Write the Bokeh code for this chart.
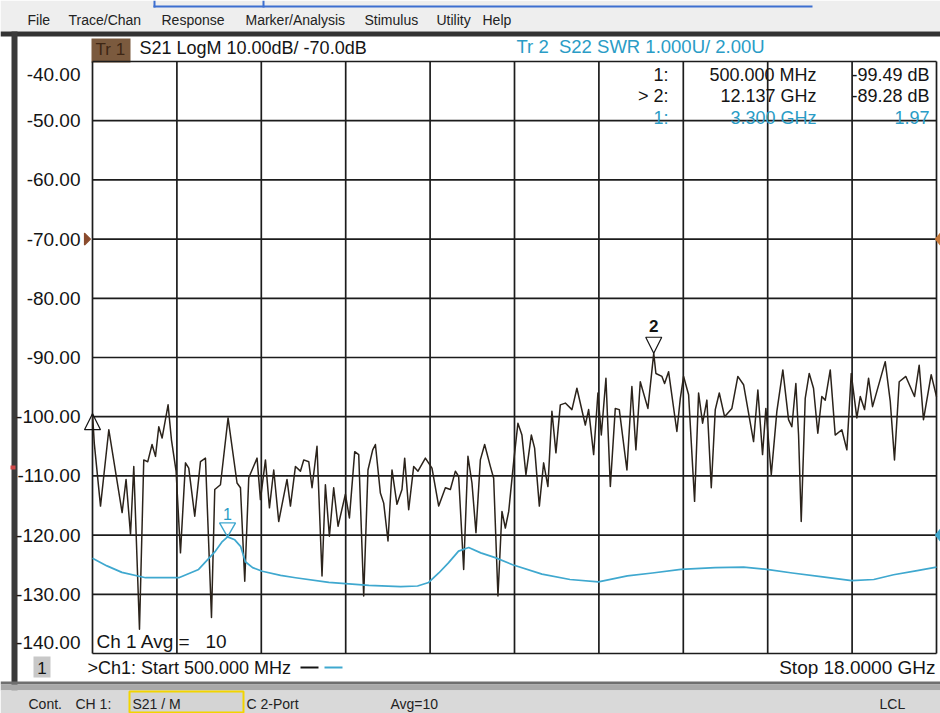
from bokeh.plotting import figure
from bokeh.models import Range1d, ColumnDataSource
from bokeh.core.properties import value
from bokeh.embed import file_html
from bokeh.resources import INLINE

# ---------------- data ----------------
start_ghz = 0.5
stop_ghz = 18.0
x_divs = 10
y_ticks = [-40, -50, -60, -70, -80, -90, -100, -110, -120, -130, -140]
y_tick_labels = ["-40.00", "-50.00", "-60.00", "-70.00", "-80.00", "-90.00",
                 "-100.00", "-110.00", "-120.00", "-130.00", "-140.00"]

s21_freq = [0.500, 0.537, 0.666, 0.838, 1.114, 1.196, 1.288, 1.356, 1.474, 1.563,
            1.646, 1.735, 1.806, 1.874, 1.943, 2.067, 2.137, 2.233, 2.324, 2.428,
            2.496, 2.620, 2.739, 2.842, 2.967, 3.035, 3.153, 3.311, 3.497, 3.568,
            3.657, 3.740, 3.912, 3.982, 4.086, 4.169, 4.258, 4.361, 4.533, 4.604,
            4.708, 4.811, 4.880, 4.984, 5.052, 5.155, 5.259, 5.329, 5.412, 5.501,
            5.591, 5.744, 5.827, 5.937, 6.020, 6.123, 6.212, 6.310, 6.366, 6.469,
            6.538, 6.627, 6.710, 6.813, 6.917, 6.973, 7.056, 7.160, 7.249, 7.402,
            7.539, 7.678, 7.817, 7.920, 8.024, 8.092, 8.196, 8.285, 8.368, 8.451,
            8.542, 8.631, 8.749, 8.818, 8.907, 8.990, 9.060, 9.130, 9.233, 9.321,
            9.404, 9.487, 9.599, 9.667, 9.765, 9.854, 9.943, 10.026, 10.109, 10.200,
            10.304, 10.441, 10.544, 10.718, 10.787, 10.891, 10.980, 11.050, 11.146, 11.237,
            11.340, 11.423, 11.581, 11.684, 11.767, 11.858, 12.016, 12.137, 12.182, 12.307,
            12.362, 12.445, 12.617, 12.688, 12.756, 12.860, 12.984, 13.067, 13.150, 13.239,
            13.330, 13.413, 13.496, 13.606, 13.757, 13.881, 14.000, 14.207, 14.296, 14.393,
            14.462, 14.574, 14.690, 14.814, 14.932, 15.001, 15.084, 15.140, 15.195, 15.278,
            15.361, 15.450, 15.539, 15.622, 15.693, 15.797, 15.900, 16.037, 16.141, 16.232,
            16.348, 16.419, 16.508, 16.591, 16.674, 16.937, 17.041, 17.129, 17.227, 17.364,
            17.544, 17.641, 17.730, 17.890, 18.000]
s21_db = [-99.5, -104.5, -115.1, -102.2, -116.2, -110.6, -119.9, -108.4, -135.9, -107.3,
          -107.6, -104.7, -106.7, -101.7, -103.6, -98.0, -103.9, -109.2, -123.0, -107.8,
          -108.7, -116.8, -107.6, -107.0, -133.9, -112.3, -111.5, -100.2, -111.2, -112.0,
          -127.8, -110.3, -107.0, -114.0, -107.3, -115.4, -109.0, -117.7, -110.6, -115.1,
          -108.4, -109.2, -107.3, -107.6, -112.0, -105.0, -126.9, -111.5, -120.2, -112.0,
          -118.5, -113.1, -117.1, -105.9, -106.4, -130.3, -109.0, -105.6, -104.7, -112.9,
          -114.6, -121.0, -109.0, -114.8, -112.3, -107.0, -115.7, -108.4, -109.2, -107.0,
          -108.7, -115.1, -112.0, -112.3, -109.2, -110.1, -125.8, -106.7, -111.2, -119.6,
          -107.3, -104.7, -108.4, -110.4, -130.3, -116.0, -118.8, -116.0, -107.6, -101.1,
          -103.1, -109.8, -103.1, -105.3, -115.1, -107.8, -111.8, -99.1, -106.1, -98.0,
          -97.7, -98.8, -95.2, -101.4, -98.8, -106.4, -96.0, -103.1, -93.5, -111.8,
          -98.6, -98.8, -109.0, -94.9, -105.6, -94.1, -98.6, -89.3, -92.7, -93.2,
          -94.4, -92.4, -102.5, -96.9, -93.2, -96.3, -114.3, -96.0, -101.1, -97.2,
          -112.0, -98.8, -96.0, -100.0, -98.6, -93.2, -94.6, -104.2, -95.5, -106.4,
          -98.6, -109.8, -99.1, -92.1, -100.5, -101.7, -94.4, -103.1, -117.7, -96.9,
          -92.7, -95.2, -102.8, -96.6, -97.2, -92.1, -103.1, -102.2, -105.6, -92.7,
          -100.2, -96.6, -98.8, -93.5, -98.3, -90.7, -97.4, -107.3, -94.1, -93.2,
          -96.6, -91.3, -100.5, -92.9, -96.6]

swr_freq = [0.50, 0.80, 1.11, 1.60, 2.29, 2.70, 2.95, 3.05, 3.18, 3.30,
            3.45, 3.57, 3.67, 3.82, 4.02, 4.40, 4.71, 5.40, 6.23, 6.89,
            7.24, 7.47, 7.68, 7.88, 8.09, 8.30, 8.55, 8.85, 9.21, 9.82,
            10.40, 10.99, 11.59, 12.11, 12.70, 13.41, 14.00, 14.48, 15.01, 15.60,
            16.24, 16.70, 17.11, 17.60, 18.00]
swr_val = [1.61, 1.48, 1.37, 1.28, 1.28, 1.42, 1.64, 1.73, 1.88, 1.97,
           1.92, 1.81, 1.55, 1.45, 1.39, 1.32, 1.28, 1.20, 1.15, 1.13,
           1.14, 1.20, 1.36, 1.53, 1.73, 1.79, 1.70, 1.62, 1.50, 1.34,
           1.25, 1.21, 1.31, 1.36, 1.42, 1.45, 1.46, 1.42, 1.36, 1.30,
           1.23, 1.25, 1.33, 1.40, 1.46]
swr_top = 10.0
swr_bottom = 0.0

# markers: (freq GHz, value)
mk_s21 = [(0.5, -99.49), (12.137, -89.28)]
mk_swr = [(3.3, 1.97)]

# ---------------- layout ----------------
W, H = 940, 713
FL, FR, FT, FB = 92, 936, 61, 653        # plot grid area in canvas pixels
BLACK = "#141414"
CYAN = "#2a9cc6"
TRACE_CYAN = "#3fa8cf"
FONT = "Liberation Sans"
NB = "\u00a0"

y_top, y_bot = y_ticks[0], y_ticks[-1]
GPP = (stop_ghz - start_ghz) / (FR - FL)       # GHz per pixel
DPP = (y_top - y_bot) / (FB - FT)              # dB per pixel
SPP = (swr_top - swr_bottom) / (FB - FT)       # SWR units per pixel

p = figure(width=W, height=H, output_backend="svg", toolbar_location=None,
           x_axis_location=None, y_axis_location=None, min_border=0,
           x_range=Range1d(start_ghz - FL * GPP, stop_ghz + (W - FR) * GPP),
           y_range=Range1d(y_bot - (H - FB) * DPP, y_top + FT * DPP))
p.extra_y_ranges = {"swr": Range1d(swr_bottom - (H - FB) * SPP, swr_top + FT * SPP),
                    "cy": Range1d(H, 0)}
p.extra_x_ranges = {"cx": Range1d(0, W)}
p.background_fill_color = "white"
p.border_fill_color = "white"
p.outline_line_color = None
p.grid.visible = False


def box(l, r, t, b, fill, line=None, lw=1):
    p.quad(left=[l], right=[r], top=[t], bottom=[b], x_range_name="cx", y_range_name="cy",
           fill_color=fill, line_color=line, line_width=lw)


def lab(x, y, text, size=18, color=BLACK, align="left", style="normal"):
    p.text(x=[x], y=[y], text=[text], x_range_name="cx", y_range_name="cy",
           text_font=value(FONT), text_font_size=value(f"{size}px"), text_color=color,
           text_align=align, text_baseline="middle", text_font_style=style)


def tri(xs, ys, fill, line, yr="cy", xr="cx", lw=1.2):
    p.patch(x=xs, y=ys, x_range_name=xr, y_range_name=yr, fill_color=fill,
            fill_alpha=1.0 if fill else 0.0, line_color=line, line_width=lw)


# chrome backgrounds
box(0, W, 0, 31, "#eeeeee")
box(153, 812, 5, 7, "#3d6fd0")
box(153, 155, 0, 7, "#3d6fd0")
box(262, 264, 0, 7, "#3d6fd0")
box(0, W, 31, 36, "#333333")
box(11, 17, 31, 690, "#3a3a3a")
box(10, 15, 465, 469, "#d04848")
box(0, W, 681, 684, "#6f6f6f")
box(0, W, 684, 690, "#a9a9a9")
box(0, W, 690, H, "#d9d9d9")
box(129, 243, 691, 712, "#d4d4d4", "#f2d400", 2)
box(33, 50, 656, 677, "#c8c8c8")
box(91, 130, 38, 62, "#7b5a3e")
box(300, 318, 666, 668, BLACK)
box(324, 342, 666, 668, TRACE_CYAN)

# grid (from tick lists)
x_ticks = [start_ghz + k * (stop_ghz - start_ghz) / x_divs for k in range(x_divs + 1)]
p.segment(x0=x_ticks, y0=[y_bot] * len(x_ticks), x1=x_ticks, y1=[y_top] * len(x_ticks),
          line_color="#1c1c1c", line_width=1.7)
p.segment(x0=[start_ghz] * len(y_ticks), y0=y_ticks, x1=[stop_ghz] * len(y_ticks), y1=y_ticks,
          line_color="#1c1c1c", line_width=1.7)

# y tick labels
ylab_pos = list(y_ticks)
ylab_pos[0] = y_top - 13 * DPP
ylab_pos[-1] = y_bot + 11 * DPP
p.text(x=[start_ghz - 12 * GPP] * len(y_ticks), y=ylab_pos, text=y_tick_labels,
       text_font=value(FONT), text_font_size=value("19px"), text_color=BLACK,
       text_align="right", text_baseline="middle")

# traces
src1 = ColumnDataSource(dict(f=s21_freq, v=s21_db))
p.line("f", "v", source=src1, line_color="#2b231b", line_width=1.5, line_join="round")
src2 = ColumnDataSource(dict(f=swr_freq, v=swr_val))
p.line("f", "v", source=src2, y_range_name="swr", line_color=TRACE_CYAN, line_width=1.7,
       line_join="round")

# marker triangles
TW = 8 * GPP
TH = 16 * DPP
f0, v0 = mk_s21[0]
tri([f0 - TW, f0 + TW, f0], [v0 - TH, v0 - TH, v0], None, BLACK, yr="default", xr="default")
f2, v2 = mk_s21[1]
tri([f2 - TW, f2 + TW, f2], [v2 + TH, v2 + TH, v2], None, BLACK, yr="default", xr="default")
p.text(x=[f2], y=[v2 + 27 * DPP], text=["2"], text_font=value(FONT),
       text_font_size=value("17px"), text_color=BLACK, text_align="center",
       text_baseline="middle", text_font_style="bold")
fs, vs = mk_swr[0]
tri([fs - TW, fs + TW, fs], [vs + 14 * SPP, vs + 14 * SPP, vs], None, TRACE_CYAN,
    yr="swr", xr="default", lw=1.4)
p.text(x=[fs], y=[vs + 23 * SPP], y_range_name="swr", text=["1"], text_font=value(FONT),
       text_font_size=value("16px"), text_color=CYAN, text_align="center",
       text_baseline="middle")

# reference position arrows
y70 = FT + 3 * (FB - FT) / 10
y120 = FT + 8 * (FB - FT) / 10
tri([84, 90, 84], [y70 - 6, y70, y70 + 6], "#8a4b2d", "#8a4b2d")
tri([940, 935, 940], [y70 - 6, y70, y70 + 6], "#c87a3a", "#c87a3a")
tri([940, 935, 940], [y120 - 6, y120, y120 + 6], TRACE_CYAN, TRACE_CYAN)

# menu
for x, t in [(27, "File"), (68, "Trace/Chan"), (161, "Response"), (245, "Marker/Analysis"),
             (364, "Stimulus"), (436, "Utility"), (482, "Help")]:
    lab(x, 19, t, size=14, color="#222222")

# header
lab(95, 49, "Tr" + NB + "1", size=17, color="#3e2614")
lab(139, 47, "S21 LogM 10.00dB/ -70.0dB", size=18)
lab(516, 46, "Tr" + NB + "2" + NB + NB + "S22 SWR 1.000U/ 2.00U", size=18.5, color=CYAN)

# marker table
rows = [(74, "1:", "500.000 MHz", "-99.49 dB", BLACK),
        (95.5, ">" + NB + "2:", "12.137 GHz", "-89.28 dB", BLACK),
        (117, "1:", "3.300 GHz", "1.97", CYAN)]
for y, a, b, c, col in rows:
    lab(668, y, a, size=18, color=col, align="right")
    lab(816, y, b, size=18, color=col, align="right")
    lab(929, y, c, size=18, color=col, align="right")

# bottom texts
lab(96, 641, "Ch 1 Avg =" + NB * 3 + "10", size=19)
lab(41.5, 667, "1", size=17, align="center")
lab(87, 667, ">Ch1: Start 500.000 MHz", size=18)
lab(935, 667, "Stop 18.0000 GHz", size=19, align="right")

# status bar
for x, t in [(28, "Cont."), (75, "CH 1:"), (132, "S21 / M"), (246, "C 2-Port"),
             (390, "Avg=10"), (879, "LCL")]:
    lab(x, 703, t, size=14, color="#222222")

open("out.html", "w").write(file_html(p, INLINE))
